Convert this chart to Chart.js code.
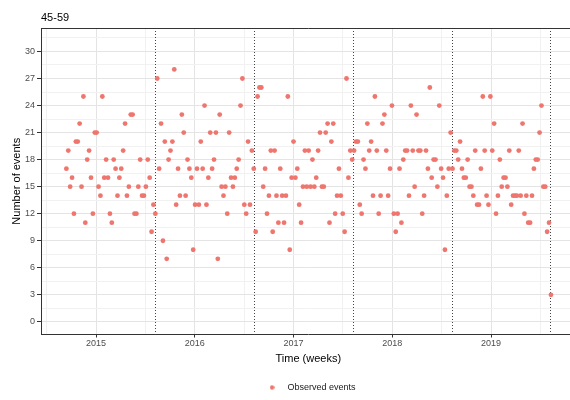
<!DOCTYPE html>
<html>
<head>
<meta charset="utf-8">
<script src="https://cdn.jsdelivr.net/npm/chart.js@4.4.0/dist/chart.umd.min.js"></script>
<style>
  html, body { margin: 0; padding: 0; background: #fff; overflow: hidden; }
  #wrap { width: 578px; height: 405px; position: relative; }
</style>
</head>
<body>
<div id="wrap"><canvas id="eventsChart"></canvas></div>
<script>
// Eventos semanales observados, grupo 45-59
const firstWeek = 2014.70;          // año decimal de la primera semana
const weekStep = 7 / 365.25;
const observedEvents = [
  17, 19, 15, 16, 12, 20, 20, 22, 15, 25, 11, 18, 19, 16, 12, 21, 21, 15, 14, 25, 16, 18,
  16, 12, 11, 18, 17, 14, 16, 17, 19, 22, 14, 15, 23, 23, 12, 12, 15, 18, 14, 14, 15,
  18, 16, 10, 13, 12, 27, 17, 22, 9, 20, 7, 18, 19, 20, 28, 13, 17, 14, 23, 21, 14, 18,
  17, 16, 8, 13, 17, 13, 20, 17, 24, 13, 16, 21, 17, 18, 21, 7, 23, 15, 14, 15, 12, 21, 16,
  15, 16, 17, 18, 24, 27, 13, 12, 20, 13, 19, 17, 10, 25, 26, 26, 15, 17, 12, 14, 19, 10,
  19, 14, 11, 17, 14, 11, 14, 25, 8, 16, 20, 16, 17, 13, 11, 15, 19, 15, 19, 15, 18, 15, 16, 19,
  21, 15, 15, 21, 22, 11, 20, 22, 12, 14, 17, 14, 12, 10, 27, 16, 19, 18, 19, 20, 20, 13,
  12, 18, 17, 22, 19, 20, 14, 25, 19, 12, 14, 22, 23, 19, 14, 17, 24, 12, 10, 12, 17, 11,
  18, 19, 19, 14, 24, 19, 15, 23, 19, 19, 12, 14, 19, 17, 26, 16, 18, 18, 15, 24, 17, 16,
  8, 14, 17, 21, 17, 19, 19, 18, 20, 17, 16, 16, 18, 15, 15, 14, 19, 13, 13, 17, 25, 19, 14,
  13, 25, 19, 22, 12, 14, 18, 15, 16, 16, 15, 19, 13, 14, 14, 14, 19, 14, 22, 12, 14, 11,
  11, 14, 17, 18, 18, 21, 24, 15, 15, 10, 11, 3
];
const cutoffYears = [2015.6, 2016.6, 2017.6, 2018.6, 2019.6];
const xTickYears = [2015, 2016, 2017, 2018, 2019];
const yTickValues = [0, 3, 6, 9, 12, 15, 18, 21, 24, 27, 30];

const points = observedEvents.map((v, i) => ({ x: firstWeek + i * weekStep, y: v }));

// cuadrícula menor a mitad de camino entre marcas
const xGridValues = [xTickYears[0] - 0.5];
xTickYears.forEach(y => { xGridValues.push(y, y + 0.5); });
const yGridValues = [];
yTickValues.forEach(v => { yGridValues.push(v, v + 1.5); });

const fontFamily = '"Liberation Sans", Arial, sans-serif';
const pointColor = '#EE766E';
const majorGrid = '#e4e4e4';
const minorGrid = '#f1f1f1';

// símbolo de la leyenda: un punto pequeño (como la llave de ggplot)
const legendDot = document.createElement('canvas');
legendDot.width = 5;
legendDot.height = 5;
const dotCtx = legendDot.getContext('2d');
dotCtx.fillStyle = pointColor;
dotCtx.beginPath();
dotCtx.arc(2.5, 2.5, 2.2, 0, Math.PI * 2);
dotCtx.fill();

const panelPlugin = {
  id: 'panel',
  beforeDatasetsDraw(chart) {
    const { ctx, chartArea, scales } = chart;
    ctx.save();
    ctx.strokeStyle = '#444';
    ctx.lineWidth = 1;
    ctx.setLineDash([1, 2]);
    cutoffYears.forEach(yr => {
      const px = Math.round(scales.x.getPixelForValue(yr)) + 0.5;
      ctx.beginPath();
      ctx.moveTo(px, chartArea.top);
      ctx.lineTo(px, chartArea.bottom);
      ctx.stroke();
    });
    ctx.restore();
  },
  afterDraw(chart) {
    const { ctx, chartArea } = chart;
    ctx.save();
    ctx.strokeStyle = '#333';
    ctx.lineWidth = 1;
    ctx.beginPath();
    ctx.moveTo(chartArea.left, Math.round(chartArea.top) + 0.5);
    ctx.lineTo(chartArea.right, Math.round(chartArea.top) + 0.5);
    ctx.stroke();
    ctx.restore();
  }
};

const ctx = document.getElementById('eventsChart').getContext('2d');
const chart = new Chart(ctx, {
  type: 'scatter',
  data: {
    datasets: [{
      label: 'Observed events',
      data: points,
      backgroundColor: pointColor,
      borderColor: pointColor,
      borderWidth: 0,
      pointRadius: 2.4,
      pointHoverRadius: 2.4
    }]
  },
  options: {
    responsive: true,
    maintainAspectRatio: false,
    animation: false,
    layout: { padding: { left: 0, right: 0, top: 0, bottom: 3 } },
    plugins: {
      title: {
        display: true,
        text: '45-59',
        align: 'start',
        fullSize: false,
        color: '#000',
        font: { family: fontFamily, size: 11, weight: 'normal' },
        padding: { top: 10.9, bottom: 3.9 }
      },
      legend: {
        position: 'bottom',
        fullSize: false,
        labels: {
          usePointStyle: true,
          pointStyle: legendDot,
          pointStyleWidth: 22,
          boxHeight: 5,
          padding: 2,
          color: '#1a1a1a',
          font: { family: fontFamily, size: 9 }
        }
      },
      tooltip: { enabled: false }
    },
    scales: {
      x: {
        type: 'linear',
        min: 2014.443,
        max: 2019.856,
        afterBuildTicks: s => { s.ticks = xGridValues.map(v => ({ value: v })); },
        ticks: {
          autoSkip: false,
          maxRotation: 0,
          padding: 0.5,
          color: '#4d4d4d',
          font: { family: fontFamily, size: 9 },
          callback: v => (xTickYears.includes(v) ? String(v) : '')
        },
        grid: {
          color: c => (c.tick && xTickYears.includes(c.tick.value) ? majorGrid : minorGrid),
          tickColor: c => (c.tick && xTickYears.includes(c.tick.value) ? '#333' : 'rgba(0,0,0,0)'),
          tickLength: 3,
          lineWidth: 1
        },
        border: { display: true, color: '#333', width: 1 },
        title: {
          display: true,
          text: 'Time (weeks)',
          color: '#000',
          font: { family: fontFamily, size: 11 },
          padding: { top: 3, bottom: 15.5 }
        }
      },
      y: {
        min: -1.4,
        max: 32.6,
        afterBuildTicks: s => { s.ticks = yGridValues.map(v => ({ value: v })); },
        afterFit: s => { s.width = 41; },
        ticks: {
          autoSkip: false,
          padding: 2,
          color: '#4d4d4d',
          font: { family: fontFamily, size: 9 },
          callback: v => (yTickValues.includes(v) ? String(v) : '')
        },
        grid: {
          color: c => (c.tick && yTickValues.includes(c.tick.value) ? majorGrid : minorGrid),
          tickColor: c => (c.tick && yTickValues.includes(c.tick.value) ? '#333' : 'rgba(0,0,0,0)'),
          tickLength: 4,
          lineWidth: 1
        },
        border: { display: true, color: '#333', width: 1 },
        title: {
          display: true,
          text: 'Number of events',
          color: '#000',
          font: { family: fontFamily, size: 11 },
          padding: { top: 10, bottom: 0 }
        }
      }
    }
  },
  plugins: [panelPlugin]
});
</script>
</body>
</html>
